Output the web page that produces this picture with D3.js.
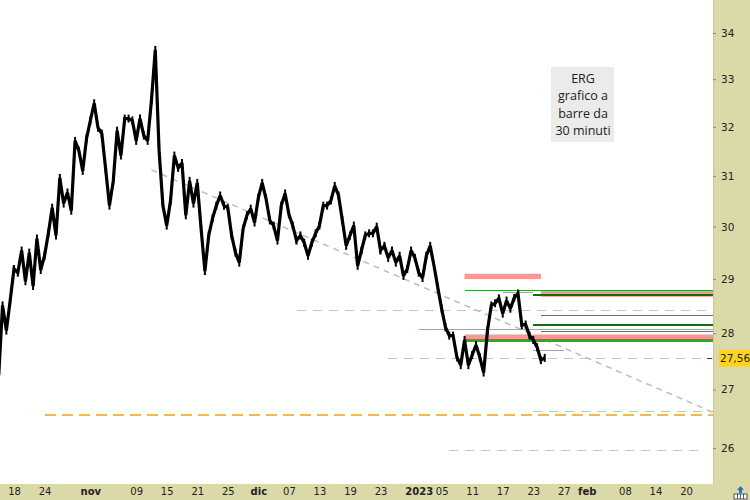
<!DOCTYPE html>
<html><head><meta charset="utf-8">
<script src="https://cdn.jsdelivr.net/npm/d3@7"></script>
<style>html,body{margin:0;padding:0;background:#fff;}svg{display:block;}</style>
</head><body>
<svg id="c" width="750" height="500"></svg>
<script>
// ---------- DATA ----------
const firstDay = "2022-10-14";
const pointsPerDay = 2;
const prices = [
27.25,28.51,28.05,28.60,29.19,29.12,29.54,28.96,29.50,28.87,
29.77,29.17,29.44,29.87,30.37,29.83,30.96,30.45,30.67,30.31,
31.71,31.51,31.10,31.76,32.13,32.49,31.98,31.86,31.14,30.41,
30.90,31.92,31.41,32.17,32.17,32.13,31.71,32.17,31.82,31.71,
32.55,33.63,31.51,30.41,30.02,30.51,31.41,31.16,31.26,30.22,
30.90,30.45,30.86,29.96,29.15,29.83,30.16,30.41,30.61,30.41,
30.37,29.83,29.50,29.31,29.96,30.22,30.35,30.08,30.57,30.86,
30.55,30.12,30.02,29.73,30.41,30.65,30.24,30.02,29.73,29.83,
29.69,29.44,29.69,29.87,30.02,30.41,30.41,30.51,30.80,30.61,
30.12,29.63,29.83,30.02,29.25,29.54,29.83,29.87,29.87,30.00,
29.54,29.63,29.40,29.54,29.31,29.44,29.06,29.19,29.54,29.40,
29.12,29.02,29.44,29.63,29.25,28.84,28.45,28.11,27.96,27.96,
27.57,27.43,27.88,27.43,27.61,27.79,27.57,27.30,28.05,28.51,
28.55,28.64,28.36,28.60,28.45,28.65,28.73,28.15,28.16,27.96,
27.88,27.75,27.52,27.56
];
const lastPrice = 27.56;
const holidays = ["2022-12-26"];
const tickDates = ["2022-10-18","2022-10-24","2022-11-01","2022-11-09","2022-11-15","2022-11-21","2022-11-25","2022-12-01","2022-12-07","2022-12-13","2022-12-19","2022-12-23","2023-01-02","2023-01-05","2023-01-11","2023-01-17","2023-01-23","2023-01-27","2023-02-01","2023-02-08","2023-02-14","2023-02-20"];
const tickLabels = ["18","24","nov","09","15","21","25","dic","07","13","19","23","2023","05","11","17","23","27","feb","08","14","20"];
const monthLabels = ["nov","dic","2023","feb"];
const priceTicks = [26,27,28,29,30,31,32,33,34];
// price zones [low, high, fromDate, toDate|null = to the right edge]
const pinkZones = [[29.00,29.10,"2023-01-10","2023-01-24"],[28.67,28.79,"2023-01-24",null],[27.86,27.98,"2023-01-10",null]];
// levels [price, fromDate, toDate|null]
const greenLevels = [[28.80,"2023-01-10",null],[28.33,"2023-01-24",null],[28.05,"2023-01-24",null]];
const strongGreenLevels = [[27.88,"2023-01-10",null]];
const darkGreenLevels = [[28.71,"2023-01-23",null],[28.16,"2023-01-23",null]];
const orangeLevels = [[27.93,"2023-01-23",null]];
const greySolidLevels = [[28.08,"2023-01-02",null],[28.75,"2023-01-17","2023-01-23"],[27.70,"2023-01-23","2023-01-27"]];
const greyDashedLevels = [[28.42,"2022-12-08",null],[27.56,"2022-12-27",null],[26.63,"2023-01-23",null],[25.97,"2023-01-06","2023-02-22"]];
const orangeDashedLevels = [[26.56,"2022-10-24",null]];
const trendLine = [["2022-11-11",31.12],["2023-02-24",26.58]];
const noteLines = ["ERG","grafico a","barre da","30 minuti"];

// ---------- CALENDAR ----------
function tradingDays(start, end, hol){
  const out=[]; let d=new Date(start+"T00:00:00Z"); const e=new Date(end+"T00:00:00Z");
  while(d<=e){ const wd=d.getUTCDay(); const s=d.toISOString().slice(0,10);
    if(wd!==0&&wd!==6&&!hol.includes(s)) out.push(s);
    d=new Date(d.getTime()+86400000);} return out;}
const days = tradingDays(firstDay,"2023-03-10",holidays);
const idx = s => days.indexOf(s);

// ---------- LAYOUT ----------
const W=750,H=500, plotR=713, plotB=484;
const svg=d3.select("#c");
const bg="#dcd9a9";
svg.append("rect").attr("x",0).attr("y",0).attr("width",W).attr("height",H).attr("fill",bg);
svg.append("rect").attr("x",0).attr("y",0).attr("width",plotR).attr("height",plotB).attr("fill","#fff");
svg.append("line").attr("x1",plotR+0.5).attr("x2",plotR+0.5).attr("y1",0).attr("y2",plotB).attr("stroke","#c9c6a0");

const x=d3.scaleLinear().domain([idx("2022-10-18"),idx("2023-02-20")]).range([14,686]);
const y=d3.scaleLog().domain([26,34]).range([448,33]);
const xEnd = x.invert(plotR);
const xf = s => s===null ? xEnd : idx(s);

svg.append("defs").append("clipPath").attr("id","pc").append("rect").attr("width",plotR).attr("height",plotB);
const g=svg.append("g").attr("clip-path","url(#pc)");

function hlines(data, color, width, dash){
  g.selectAll(null).data(data).enter().append("line")
   .attr("x1",d=>x(xf(d[1]))).attr("x2",d=>x(xf(d[2])))
   .attr("y1",d=>Math.round(y(d[0]))).attr("y2",d=>Math.round(y(d[0])))
   .attr("stroke",color).attr("stroke-width",width).attr("stroke-dasharray",dash||null)
   .attr("shape-rendering","crispEdges");
}
hlines(orangeDashedLevels,"#f5b84a",2,"11,6");
hlines(greyDashedLevels,"#c4c4c4",1,"9,7");
// trend line
g.append("line").attr("x1",x(idx(trendLine[0][0]))).attr("y1",y(trendLine[0][1]))
 .attr("x2",x(idx(trendLine[1][0]))).attr("y2",y(trendLine[1][1]))
 .attr("stroke","#bdbdbd").attr("stroke-width",1.5).attr("stroke-dasharray","6,5");

// pink zones
g.selectAll(null).data(pinkZones).enter().append("rect")
 .attr("x",d=>x(xf(d[2]))).attr("width",d=>x(xf(d[3]))-x(xf(d[2])))
 .attr("y",d=>y(d[1])).attr("height",d=>y(d[0])-y(d[1]))
 .attr("fill","#f79a96");

hlines(greySolidLevels,"#a8a0a8",1);
hlines(greenLevels,"#2e9e2e",1);
hlines(darkGreenLevels,"#0b700b",2);
hlines(orangeLevels,"#f0a640",1);
hlines(strongGreenLevels,"#22b022",3);

// price (30-minute bars rendered as a dense thick trace)
const startI = idx(firstDay);
const px = (d,k)=>x(startI+k/pointsPerDay);
const line=d3.line().x(px).y(d=>y(d));
g.append("path").datum(prices).attr("d",line).attr("fill","none")
 .attr("stroke","#000").attr("stroke-width",3.2).attr("stroke-linejoin","miter").attr("stroke-miterlimit",2.5);
g.selectAll(null).data(prices).enter().append("line")
 .attr("x1",(d,k)=>px(d,k)).attr("x2",(d,k)=>px(d,k))
 .attr("y1",d=>y(d)-4).attr("y2",d=>y(d)+4)
 .attr("stroke","#000").attr("stroke-width",2);

// note box
const nb=svg.append("g");
nb.append("rect").attr("x",551).attr("y",67).attr("width",63).attr("height",75).attr("fill","#ebebeb");
nb.selectAll(null).data(noteLines).enter().append("text")
 .attr("x",583).attr("y",(d,i)=>83+i*17.3).attr("text-anchor","middle")
 .attr("font-family","'Open Sans', 'Liberation Sans', sans-serif").attr("font-size",12.5).attr("fill","#222").text(d=>d);

// right axis
const ya=svg.append("g").attr("transform",`translate(${plotR},0)`)
 .call(d3.axisRight(y).tickValues(priceTicks).tickFormat(d3.format("d")).tickSize(3).tickPadding(5));
ya.select(".domain").remove();
ya.selectAll("line").attr("stroke","#888");
ya.selectAll("text").attr("font-family","'DejaVu Sans', sans-serif").attr("font-size",10.5).attr("fill","#222");

// last price label
const ly=y(lastPrice);
svg.append("line").attr("x1",707).attr("x2",712).attr("y1",Math.round(ly)+0.5).attr("y2",Math.round(ly)+0.5).attr("stroke","#333");
svg.append("rect").attr("x",719).attr("y",ly-8.5).attr("width",31).attr("height",17).attr("fill","#ffd31a");
svg.append("text").attr("x",720).attr("y",ly+4).attr("font-family","'DejaVu Sans', sans-serif").attr("font-size",10.5).attr("fill","#222")
 .text(d3.format(".2f")(lastPrice).replace(".",","));

// bottom axis
const xa=svg.append("g").attr("transform",`translate(0,${plotB})`)
 .call(d3.axisBottom(x).tickValues(tickDates.map(idx)).tickFormat((d,i)=>tickLabels[i]).tickSize(0).tickPadding(4));
xa.select(".domain").remove();
xa.selectAll("text").attr("font-family","'DejaVu Sans', sans-serif").attr("font-size",10).attr("fill","#222")
 .attr("font-weight",(d,i)=>monthLabels.includes(tickLabels[i])?"bold":"normal");

// corner icon
const ic=svg.append("g").attr("transform","translate(733,486)");
ic.append("path").attr("d","M7.5,0 L11,4 L9,4 L9,7 L6,7 L6,4 L4,4 Z").attr("fill","#2a6fd0");
ic.append("rect").attr("x",1).attr("y",8).attr("width",13).attr("height",5).attr("fill","#fff").attr("stroke","#334").attr("stroke-width",0.8);
ic.selectAll(null).data([4,7,10]).enter().append("line").attr("x1",d=>d+0.5).attr("x2",d=>d+0.5).attr("y1",8).attr("y2",13).attr("stroke","#334").attr("stroke-width",0.8);
</script>
</body></html>
